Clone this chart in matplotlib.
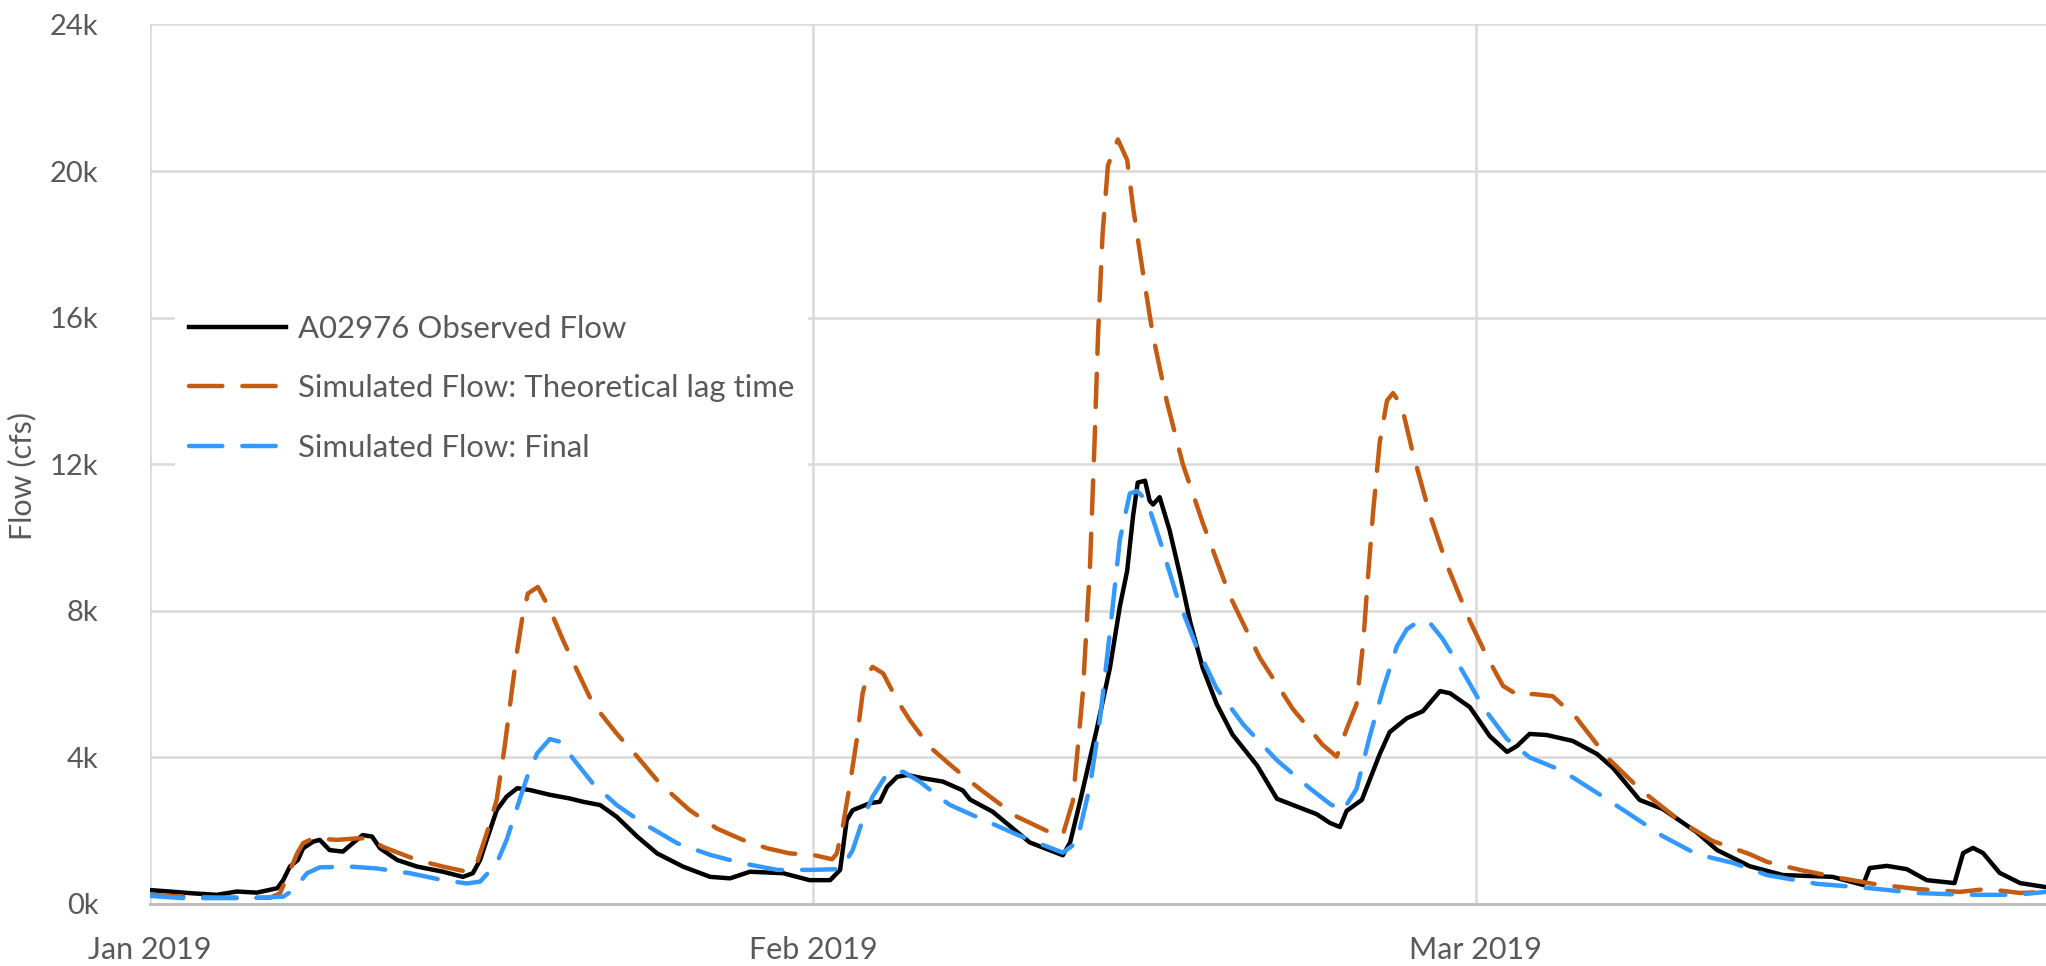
import matplotlib
matplotlib.use('Agg')

import matplotlib.pyplot as plt
from matplotlib.ticker import FixedLocator, FuncFormatter

plt.rcParams['font.family'] = ['Lato', 'DejaVu Sans']

# x positions are in months since 1 Jan 2019 (Feb 1 = 1.0, Mar 1 = 2.0)
obs_t = [0.000, 0.030, 0.065, 0.101, 0.131, 0.161, 0.192, 0.201, 0.211, 0.223,
         0.231, 0.246, 0.256, 0.271, 0.291, 0.306, 0.321, 0.335, 0.347, 0.373,
         0.403, 0.442, 0.472, 0.487, 0.498, 0.508, 0.523, 0.538, 0.554, 0.573,
         0.603, 0.633, 0.653, 0.679, 0.704, 0.735, 0.765, 0.804, 0.845, 0.875,
         0.905, 0.955, 0.995, 1.026, 1.041, 1.051, 1.060, 1.086, 1.101, 1.112,
         1.127, 1.142, 1.166, 1.196, 1.226, 1.237, 1.271, 1.327, 1.377, 1.388,
         1.403, 1.428, 1.448, 1.463, 1.474, 1.483, 1.490, 1.501, 1.508, 1.513,
         1.523, 1.538, 1.554, 1.569, 1.588, 1.609, 1.633, 1.670, 1.700, 1.730,
         1.760, 1.780, 1.795, 1.805, 1.828, 1.855, 1.870, 1.896, 1.920, 1.946,
         1.961, 1.991, 2.021, 2.047, 2.062, 2.081, 2.107, 2.146, 2.183, 2.207,
         2.247, 2.282, 2.333, 2.364, 2.413, 2.463, 2.538, 2.584, 2.594, 2.620,
         2.650, 2.680, 2.722, 2.735, 2.750, 2.765, 2.790, 2.821, 2.860]
obs_q = [380, 340, 290, 250, 340, 310, 430, 650, 1020, 1200,
         1520, 1700, 1750, 1470, 1430, 1660, 1880, 1840, 1520, 1200,
         1020, 880, 740, 840, 1200, 1750, 2560, 2930, 3160, 3110,
         2980, 2880, 2790, 2700, 2380, 1840, 1380, 1020, 740, 700,
         880, 840, 650, 650, 930, 2290, 2560, 2750, 2790, 3200,
         3470, 3520, 3430, 3340, 3100, 2850, 2520, 1680, 1330, 1680,
         2800, 4760, 6440, 8120, 9090, 10600, 11500, 11550, 11000, 10900,
         11100, 10200, 8960, 7700, 6440, 5460, 4620, 3780, 2870, 2660,
         2450, 2210, 2100, 2540, 2840, 4090, 4690, 5070, 5260, 5810,
         5750, 5370, 4580, 4150, 4310, 4640, 4610, 4450, 4090, 3710,
         2840, 2590, 1960, 1470, 1030, 790, 740, 520, 980, 1040,
         950, 650, 570, 1390, 1530, 1390, 850, 570, 460]

lag_t = [0.000, 0.050, 0.101, 0.151, 0.181, 0.196, 0.207, 0.222, 0.231, 0.246,
         0.282, 0.312, 0.332, 0.351, 0.403, 0.442, 0.478, 0.493, 0.508, 0.523,
         0.535, 0.546, 0.554, 0.561, 0.570, 0.585, 0.603, 0.623, 0.644, 0.668,
         0.704, 0.735, 0.769, 0.814, 0.855, 0.894, 0.931, 0.965, 1.000, 1.029,
         1.036, 1.045, 1.056, 1.066, 1.075, 1.083, 1.090, 1.106, 1.127, 1.146,
         1.176, 1.207, 1.237, 1.256, 1.308, 1.357, 1.377, 1.392, 1.407, 1.418,
         1.425, 1.430, 1.437, 1.445, 1.460, 1.474, 1.483, 1.498, 1.513, 1.534,
         1.558, 1.588, 1.629, 1.674, 1.724, 1.769, 1.790, 1.805, 1.820, 1.830,
         1.837, 1.845, 1.855, 1.866, 1.875, 1.888, 1.905, 1.931, 1.956, 1.991,
         2.017, 2.041, 2.066, 2.086, 2.116, 2.152, 2.198, 2.247, 2.308, 2.357,
         2.413, 2.439, 2.489, 2.549, 2.599, 2.665, 2.730, 2.771, 2.821, 2.860]
lag_q = [250, 200, 180, 170, 170, 290, 740, 1380, 1660, 1790,
         1750, 1790, 1790, 1560, 1200, 1020, 880, 1110, 1930, 2840,
         4290, 5840, 6930, 7740, 8470, 8650, 8050, 7200, 6380, 5470,
         4650, 4020, 3290, 2560, 2060, 1750, 1520, 1380, 1340, 1220,
         1380, 2110, 3290, 4470, 5750, 6290, 6470, 6290, 5560, 5020,
         4290, 3800, 3350, 3080, 2380, 1960, 1890, 2800, 5740, 9240,
         12700, 15500, 18300, 20150, 20860, 20300, 19000, 17200, 15500, 13700,
         12000, 10400, 8400, 6720, 5320, 4340, 4020, 4770, 5450, 7120,
         8860, 10700, 12600, 13740, 13940, 13600, 12300, 10600, 9270, 7720,
         6740, 5950, 5670, 5730, 5670, 5070, 4000, 3140, 2260, 1720,
         1360, 1150, 930, 710, 550, 410, 330, 410, 300, 330]

final_t = [0.000, 0.050, 0.151, 0.201, 0.216, 0.237, 0.256, 0.302, 0.342, 0.392,
           0.442, 0.478, 0.498, 0.523, 0.538, 0.554, 0.569, 0.584, 0.603, 0.618,
           0.638, 0.668, 0.704, 0.744, 0.795, 0.845, 0.894, 0.946, 0.995, 1.041,
           1.051, 1.060, 1.075, 1.090, 1.112, 1.136, 1.161, 1.196, 1.207, 1.244,
           1.282, 1.308, 1.347, 1.377, 1.398, 1.418, 1.433, 1.448, 1.463, 1.478,
           1.489, 1.504, 1.523, 1.549, 1.579, 1.609, 1.649, 1.700, 1.750, 1.780,
           1.799, 1.820, 1.840, 1.860, 1.881, 1.896, 1.916, 1.931, 1.950, 1.980,
           2.011, 2.047, 2.081, 2.131, 2.183, 2.232, 2.282, 2.333, 2.388, 2.439,
           2.514, 2.589, 2.665, 2.740, 2.816, 2.860]
final_q = [220, 160, 160, 200, 380, 840, 1000, 1020, 970, 840,
           650, 560, 610, 1110, 1750, 2650, 3470, 4110, 4500, 4430,
           3970, 3290, 2700, 2200, 1660, 1340, 1110, 930, 930, 950,
           1200, 1470, 2290, 2930, 3560, 3610, 3340, 2840, 2700, 2400,
           2100, 1890, 1610, 1400, 1680, 3220, 5040, 7420, 9940, 11200,
           11270, 10990, 9940, 8400, 7000, 5880, 4900, 3920, 3150, 2730,
           2540, 3140, 4580, 5860, 7040, 7500, 7740, 7660, 7230, 6350,
           5370, 4500, 4000, 3630, 3030, 2450, 1850, 1360, 1120, 790,
           550, 440, 300, 250, 250, 330]

month_pos = [0, 1, 2]
month_labels = ['Jan 2019', 'Feb 2019', 'Mar 2019']
flow_ticks = [0, 4000, 8000, 12000, 16000, 20000, 24000]

text_grey = '#595959'
grid_grey = '#d9d9d9'

fig = plt.figure(figsize=(20.46, 9.66), dpi=100)
ax = fig.add_axes([0.0733, 0.0642, 0.9267, 0.9105])

dash = (7.5, 4.5)
ax.plot(obs_t, obs_q, color='black', lw=3.2, solid_joinstyle='round',
        label='A02976 Observed Flow')
ax.plot(lag_t, lag_q, color='#c55a11', lw=3.2, dashes=dash, dash_capstyle='round',
        label='Simulated Flow: Theoretical lag time')
ax.plot(final_t, final_q, color='#3399ff', lw=3.2, dashes=dash, dash_capstyle='round',
        label='Simulated Flow: Final')

ax.set_xlim(0, obs_t[-1])
ax.set_ylim(0, 24000)
ax.xaxis.set_major_locator(FixedLocator(month_pos))
ax.set_xticklabels(month_labels)
ax.yaxis.set_major_locator(FixedLocator(flow_ticks))
ax.yaxis.set_major_formatter(FuncFormatter(lambda v, p: f'{v / 1000:.0f}k'))

ax.grid(True, color=grid_grey, lw=1.8, zorder=0)
ax.set_axisbelow(True)
for side in ['top', 'right', 'left']:
    ax.spines[side].set_visible(False)
ax.spines['bottom'].set_color('#bfbfbf')
ax.spines['bottom'].set_linewidth(2.2)

ax.tick_params(axis='both', length=0, labelcolor=text_grey)
ax.tick_params(axis='y', labelsize=21, pad=37)
ax.tick_params(axis='x', labelsize=22, pad=23)

ax.set_ylabel('Flow (cfs)', fontsize=22, color=text_grey)
ax.yaxis.set_label_coords(-0.060, 0.487)

leg = ax.legend(loc='upper left', bbox_to_anchor=(0.0132, 0.686), borderaxespad=0,
                fontsize=22.4, frameon=True, facecolor='white', edgecolor='none',
                framealpha=1, fancybox=False, borderpad=0.45, handlelength=3.12,
                handletextpad=0.38, labelspacing=1.02)
for txt in leg.get_texts():
    txt.set_color(text_grey)

fig.savefig('out.png', dpi=100)
